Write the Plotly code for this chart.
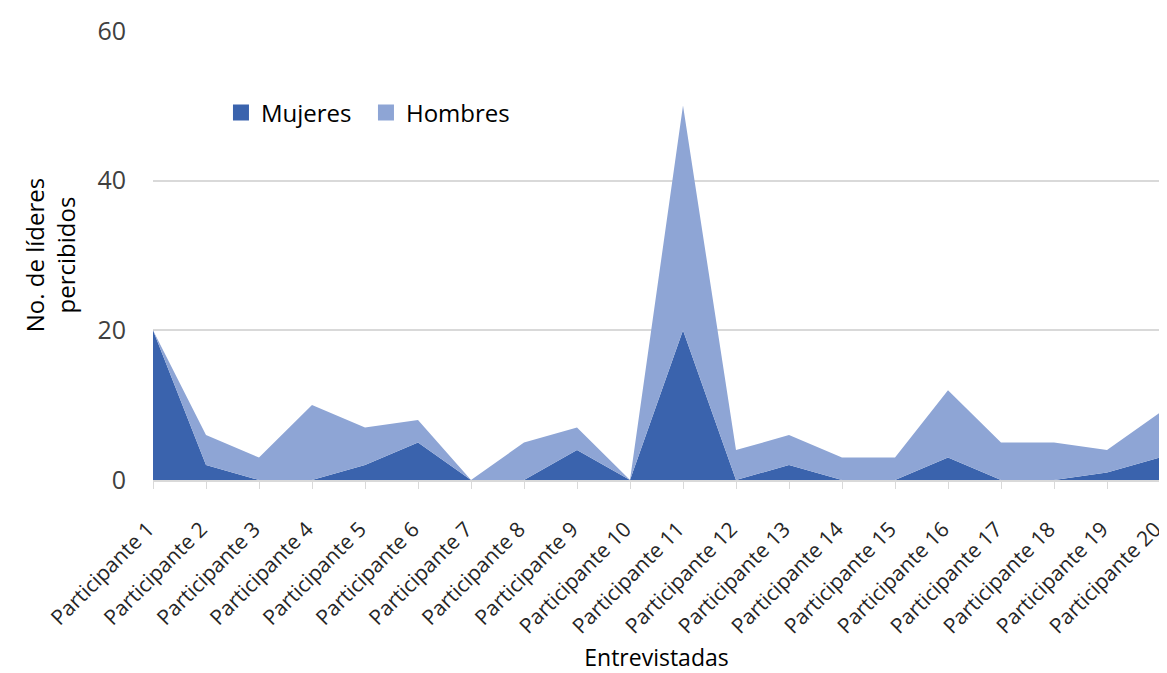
import plotly.graph_objects as go

participantes = ["Participante %d" % i for i in range(1, 21)]
mujeres = [20, 2, 0, 0, 2, 5, 0, 0, 4, 0, 20, 0, 2, 0, 0, 3, 0, 0, 1, 3]
hombres = [0, 4, 3, 10, 5, 3, 0, 5, 3, 0, 30, 4, 4, 3, 3, 9, 5, 5, 3, 6]
y_ticks = [0, 20, 40, 60]

FONT = "Open Sans, Noto Sans, sans-serif"
DARK = "#3A63AD"
LIGHT = "#8EA5D5"

fig = go.Figure()
fig.add_trace(go.Scatter(x=participantes, y=mujeres, name="Mujeres", mode="lines",
                         stackgroup="one", line=dict(width=0, color=DARK),
                         fillcolor=DARK, showlegend=False))
fig.add_trace(go.Scatter(x=participantes, y=hombres, name="Hombres", mode="lines",
                         stackgroup="one", line=dict(width=0, color=LIGHT),
                         fillcolor=LIGHT, showlegend=False))
# legend entries with square swatches
for name, col in [("Mujeres", DARK), ("Hombres", LIGHT)]:
    fig.add_trace(go.Scatter(x=[None], y=[None], name=name, mode="markers",
                             marker=dict(symbol="square", size=16, color=col)))

# page body adds an 8px offset, so the figure is a bit smaller than the window
fig.update_layout(
    width=1159, height=665,
    margin=dict(l=145, r=7, t=22, b=193),
    plot_bgcolor="white", paper_bgcolor="white",
    font=dict(family=FONT, color="#000000"),
    legend=dict(orientation="h", x=0.0675, y=0.8156, xanchor="left", yanchor="middle",
                font=dict(size=24), itemwidth=30, entrywidth=100, traceorder="normal",
                bgcolor="rgba(0,0,0,0)"),
    xaxis=dict(
        range=[0, 19], showgrid=False, showline=True, linecolor="#D9D9D9", linewidth=1.5,
        ticks="outside", tickcolor="#D9D9D9", ticklen=7, tickangle=-45,
        tickfont=dict(size=21, color="#262626"), automargin=False,
        ticklabelstandoff=20, ticklabelshift=-5,
        title=dict(text="Entrevistadas", font=dict(size=23), standoff=16),
    ),
    yaxis=dict(
        range=[0, 60.1], tickvals=y_ticks, showgrid=True, gridcolor="#D9D9D9", gridwidth=1.5,
        zeroline=False, showline=False, ticks="", ticklabelstandoff=26,
        tickfont=dict(size=25, color="#404040"), automargin=False,
        title=dict(text="No. de líderes<br>percibidos", font=dict(size=24), standoff=14),
    ),
)

fig.write_html("out.html")
